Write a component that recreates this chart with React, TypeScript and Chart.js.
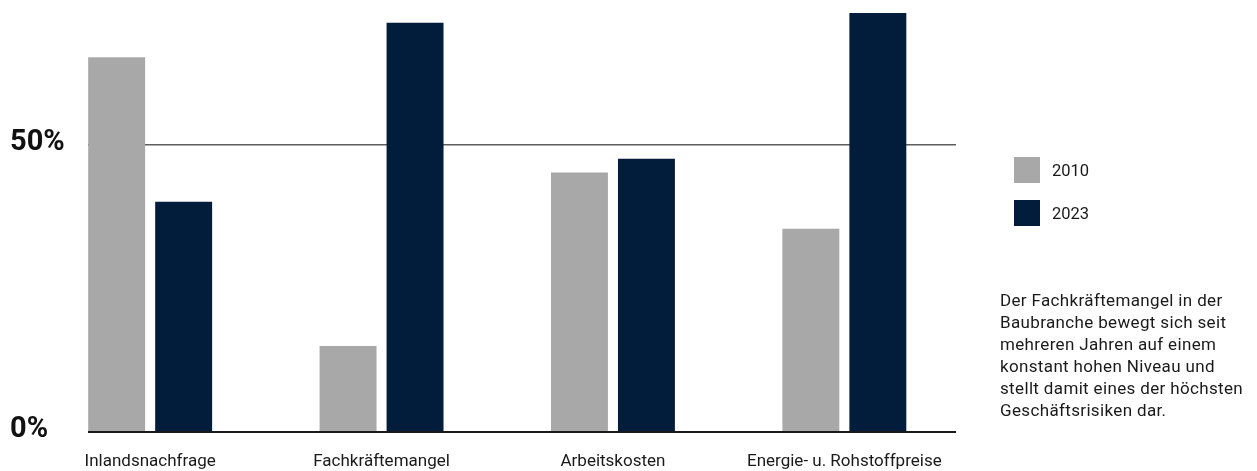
import React, { useEffect, useRef } from "react";
import { Chart, registerables } from "chart.js";

Chart.register(...registerables);

const categories = ["Inlandsnachfrage", "Fachkräftemangel", "Arbeitskosten", "Energie- u. Rohstoffpreise"];
const seriesLabels = ["2010", "2023"];
const series2010 = [65.3, 15.0, 45.2, 35.4];
const series2023 = [40.1, 71.3, 47.6, 73.0];
const seriesColors = ["#a8a8a8", "#021d3c"];
const yTicks = [0, 50];
const noteLines = [
  "Der Fachkräftemangel in der",
  "Baubranche bewegt sich seit",
  "mehreren Jahren auf einem",
  "konstant hohen Niveau und",
  "stellt damit eines der höchsten",
  "Geschäftsrisiken dar.",
];

const FONT = "Roboto, 'Noto Sans', sans-serif";

const zeroPadding = (scale: any) => {
  scale.paddingTop = 0;
  scale.paddingBottom = 0;
  scale.paddingLeft = 0;
  scale.paddingRight = 0;
};

export default function App() {
  const canvasRef = useRef<HTMLCanvasElement | null>(null);

  useEffect(() => {
    const canvas = canvasRef.current;
    if (!canvas) return;
    const allSeries = [series2010, series2023];
    const chart = new Chart(canvas, {
      type: "bar",
      data: {
        datasets: allSeries.map((s, k) => ({
          label: seriesLabels[k],
          data: s.map((v, i) => ({ x: i, y: v })),
          backgroundColor: seriesColors[k],
          borderWidth: 0,
          categoryPercentage: 0.579,
          barPercentage: 0.85,
        })),
      },
      options: {
        animation: false,
        responsive: false,
        maintainAspectRatio: false,
        layout: { padding: { left: 10, right: 301, top: 1.5, bottom: 0 } },
        plugins: { legend: { display: false }, tooltip: { enabled: false } },
        scales: {
          x: {
            type: "linear",
            offset: false,
            min: -0.2686,
            max: 3.4825,
            grid: { display: false, drawTicks: false },
            border: { display: false },
            afterBuildTicks: (scale: any) => {
              scale.ticks = categories.map((_, i) => ({ value: i }));
            },
            afterFit: (scale: any) => {
              scale.height = 39;
              zeroPadding(scale);
            },
            ticks: {
              autoSkip: false,
              maxRotation: 0,
              padding: 20,
              color: "#1a1a1a",
              font: { family: FONT, size: 17 },
              callback: (v: any) => categories[Math.round(Number(v))] ?? "",
            },
          },
          y: {
            min: 0,
            max: 75,
            afterBuildTicks: (scale: any) => {
              scale.ticks = yTicks.map((v) => ({ value: v }));
            },
            afterFit: (scale: any) => {
              scale.width = 78;
              zeroPadding(scale);
            },
            grid: {
              drawTicks: false,
              color: (ctx: any) => (ctx.tick && ctx.tick.value === 0 ? "#1a1a1a" : "#5e5e5e"),
              lineWidth: (ctx: any) => (ctx.tick && ctx.tick.value === 0 ? 2 : 1.5),
            },
            border: { display: false },
            ticks: {
              crossAlign: "far",
              padding: 0,
              labelOffset: -2,
              color: "#111111",
              font: { family: FONT, size: 29, weight: "bold" },
              callback: (v: any) => `${v}%`,
            },
          },
        },
      },
    });
    return () => chart.destroy();
  }, []);

  return (
    <div style={{ position: "absolute", left: 0, top: 0, width: 1257, height: 471, background: "#fff", fontFamily: FONT }}>
      <canvas ref={canvasRef} width={1257} height={471} style={{ display: "block", width: 1257, height: 471 }} />
      <div style={{ position: "absolute", left: 1014, top: 157 }}>
        {seriesLabels.map((lab, k) => (
          <div key={lab} style={{ display: "flex", alignItems: "center", height: 26, marginBottom: 17 }}>
            <div style={{ width: 26, height: 26, background: seriesColors[k] }} />
            <span style={{ marginLeft: 12, fontSize: 16.5, color: "#1a1a1a" }}>{lab}</span>
          </div>
        ))}
      </div>
      <div
        style={{
          position: "absolute",
          left: 1000,
          top: 289,
          fontSize: 17,
          letterSpacing: "0.35px",
          lineHeight: "22px",
          color: "#1a1a1a",
          whiteSpace: "nowrap",
        }}
      >
        {noteLines.map((line) => (
          <div key={line}>{line}</div>
        ))}
      </div>
    </div>
  );
}
